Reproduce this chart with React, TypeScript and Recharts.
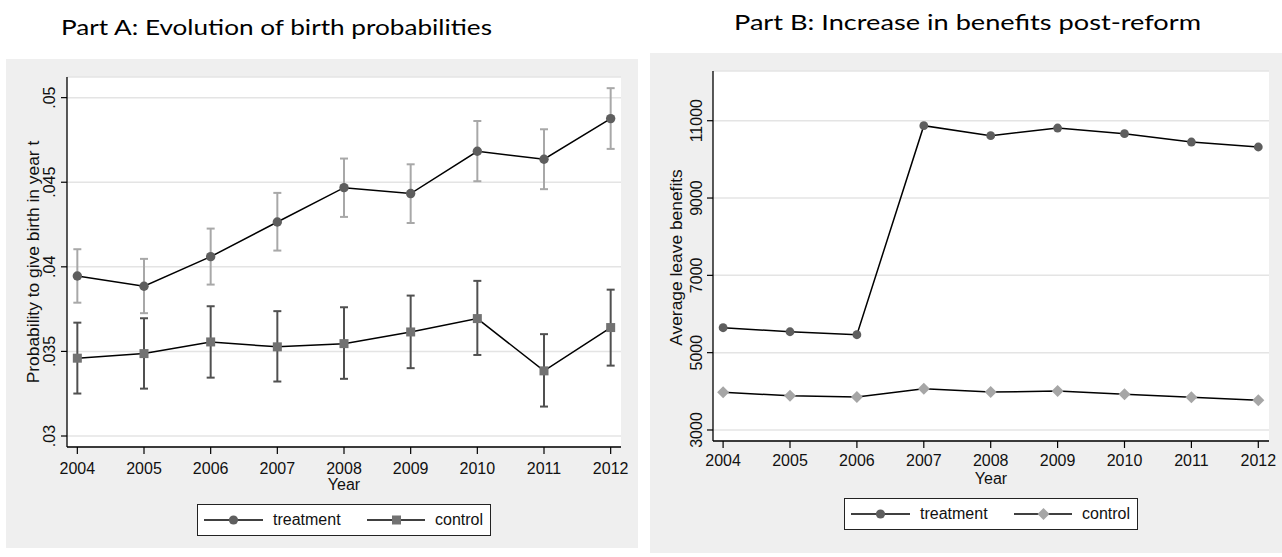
import React from 'react';
import { LineChart, Line, XAxis, YAxis, CartesianGrid, ErrorBar } from 'recharts';

const years = [2004, 2005, 2006, 2007, 2008, 2009, 2010, 2011, 2012];

// Part A: birth probabilities with confidence intervals
const treatProbA = [0.03946, 0.03885, 0.0406, 0.04265, 0.04468, 0.04433, 0.04683, 0.04636, 0.04876];
const treatLowA = [0.03788, 0.03726, 0.03895, 0.04096, 0.04295, 0.04259, 0.04506, 0.04459, 0.04697];
const treatHighA = [0.04104, 0.04047, 0.04226, 0.04437, 0.0464, 0.04606, 0.04862, 0.04813, 0.05056];
const controlProbA = [0.0346, 0.03487, 0.03556, 0.03527, 0.03546, 0.03615, 0.03694, 0.03385, 0.03641];
const controlLowA = [0.03251, 0.0328, 0.03345, 0.03322, 0.03338, 0.03401, 0.03479, 0.03174, 0.03416];
const controlHighA = [0.0367, 0.03696, 0.03767, 0.03738, 0.03761, 0.0383, 0.03917, 0.03602, 0.03865];

// Part B: average leave benefits
const treatBenefitsB = [5645, 5541, 5464, 10871, 10612, 10811, 10664, 10449, 10320];
const controlBenefitsB = [3974, 3886, 3852, 4067, 3982, 4007, 3922, 3844, 3767];

const yTicksA = [0.03, 0.035, 0.04, 0.045, 0.05];
const yTickLabelsA = ['.03', '.035', '.04', '.045', '.05'];
const yTicksB = [3000, 5000, 7000, 9000, 11000];
const yTickLabelsB = ['3000', '5000', '7000', '9000', '11000'];

const titleA = 'Part A: Evolution of birth probabilities';
const titleB = 'Part B: Increase in benefits post-reform';
const yTitleA = 'Probability to give birth in year t';
const yTitleB = 'Average leave benefits';
const xTitle = 'Year';
const seriesNames = ['treatment', 'control'];

const dataA = years.map((year, i) => ({
  year,
  treatment: treatProbA[i],
  treatErr: [treatProbA[i] - treatLowA[i], treatHighA[i] - treatProbA[i]],
  control: controlProbA[i],
  controlErr: [controlProbA[i] - controlLowA[i], controlHighA[i] - controlProbA[i]],
}));

const dataB = years.map((year, i) => ({
  year,
  treatment: treatBenefitsB[i],
  control: controlBenefitsB[i],
}));

const FONT = "'Liberation Sans', Arial, Helvetica, sans-serif";
const TITLE_FONT = "Lato, 'Open Sans', sans-serif";
const GRAY_BG = '#efefef';
const GRID = '#e4e4e4';

const YTick = (props: any) => {
  const { x, y, payload, labels, ticks } = props;
  const idx = ticks.indexOf(payload.value);
  return (
    <text
      transform={`translate(${x},${y}) rotate(-90)`}
      textAnchor="middle"
      fontSize={16}
      fontFamily={FONT}
      fill="#111"
    >
      {labels[idx]}
    </text>
  );
};

const circleDot = (fill: string, r: number) => (props: any) => {
  const { cx, cy, index } = props;
  if (cx == null || cy == null) return <g key={`c-${index}`} />;
  return <circle key={`c-${index}`} cx={cx} cy={cy} r={r} fill={fill} stroke="none" />;
};

const squareDot = (fill: string, s: number) => (props: any) => {
  const { cx, cy, index } = props;
  if (cx == null || cy == null) return <g key={`s-${index}`} />;
  return <rect key={`s-${index}`} x={cx - s / 2} y={cy - s / 2} width={s} height={s} fill={fill} stroke="none" />;
};

const diamondDot = (fill: string, h: number) => (props: any) => {
  const { cx, cy, index } = props;
  if (cx == null || cy == null) return <g key={`d-${index}`} />;
  return (
    <polygon
      key={`d-${index}`}
      points={`${cx},${cy - h} ${cx + h},${cy} ${cx},${cy + h} ${cx - h},${cy}`}
      fill={fill}
      stroke="none"
    />
  );
};

const Title = ({ text, left, width, baseline }: { text: string; left: number; width: number; baseline: number }) => (
  <svg style={{ position: 'absolute', left: 0, top: 0 }} width={1282} height={50}>
    <text
      x={left}
      y={baseline}
      textLength={width}
      lengthAdjust="spacingAndGlyphs"
      fontFamily={TITLE_FONT}
      fontSize={20.5}
      fill="#000"
    >
      {text}
    </text>
  </svg>
);

const LegendBox = ({ left, top, second }: { left: number; top: number; second: 'square' | 'diamond' }) => (
  <div
    style={{
      position: 'absolute',
      left,
      top,
      width: 294,
      height: 32,
      boxSizing: 'border-box',
      border: '1px solid #222',
      background: '#fff',
      fontFamily: FONT,
      fontSize: 16,
      color: '#111',
    }}
  >
    <svg style={{ position: 'absolute', left: 0, top: 0 }} width={292} height={30}>
      <line x1={6} y1={15} x2={65} y2={15} stroke="#000" strokeWidth={1.5} />
      <circle cx={35.5} cy={15} r={4.6} fill="#5e5e5e" />
      <line x1={169} y1={15} x2={227} y2={15} stroke="#000" strokeWidth={1.5} />
      {second === 'square' ? (
        <rect x={194} y={10.5} width={9} height={9} fill="#727272" />
      ) : (
        <polygon points="198.5,9 204.5,15 198.5,21 192.5,15" fill="#a6a6a6" />
      )}
    </svg>
    <span style={{ position: 'absolute', left: 75, top: 0, lineHeight: '30px' }}>{seriesNames[0]}</span>
    <span style={{ position: 'absolute', left: 237, top: 0, lineHeight: '30px' }}>{seriesNames[1]}</span>
  </div>
);

export default function App() {
  // Chart A frame: gray box (6,59)-(638,548); plot (67,77)-(621,447)
  const aMargin = { top: 18, right: 17, bottom: 1, left: 1 };
  // Chart B frame: gray box (650,53)-(1282,553); plot (713,71)-(1269,441)
  const bMargin = { top: 18, right: 13, bottom: 1, left: 3 };

  return (
    <div style={{ position: 'absolute', left: 0, top: 0, width: 1282, height: 557, background: '#fff', overflow: 'hidden' }}>
      <Title text={titleA} left={61} width={431} baseline={35} />
      <Title text={titleB} left={734} width={467} baseline={30} />

      <div style={{ position: 'absolute', left: 6, top: 59, width: 632, height: 489, background: GRAY_BG }}>
        <LineChart width={632} height={489} data={dataA} margin={aMargin}>
          <CartesianGrid horizontal vertical={false} stroke={GRID} strokeWidth={1.5} fill="#ffffff" />
          <XAxis
            dataKey="year"
            type="number"
            domain={[2003.845, 2012.155]}
            ticks={years}
            allowDataOverflow
            height={100}
            axisLine={{ stroke: '#000', strokeWidth: 1.3 }}
            tickLine={{ stroke: '#000', strokeWidth: 1.2 }}
            tickSize={7}
            tickMargin={9}
            interval={0}
            tick={{ fontSize: 16, fill: '#111', fontFamily: FONT }}
            label={{
              content: () => (
                <text x={338} y={489.5 - 59} textAnchor="middle" fontSize={16} fontFamily={FONT} fill="#111">
                  {xTitle}
                </text>
              ),
            }}
          />
          <YAxis
            type="number"
            domain={[0.02935, 0.05122]}
            ticks={yTicksA}
            allowDataOverflow
            width={60}
            axisLine={{ stroke: '#000', strokeWidth: 1.3 }}
            tickLine={{ stroke: '#000', strokeWidth: 1.2 }}
            tickSize={6}
            tickMargin={6}
            interval={0}
            tick={<YTick labels={yTickLabelsA} ticks={yTicksA} />}
            label={{
              content: () => (
                <text
                  transform={`translate(${61 - 28},${262 - 59}) rotate(-90)`}
                  textAnchor="middle"
                  fontSize={17.4}
                  fontFamily={FONT}
                  fill="#111"
                >
                  {yTitleA}
                </text>
              ),
            }}
          />
          <Line
            type="linear"
            dataKey="control"
            stroke="#000"
            strokeWidth={1.5}
            dot={squareDot('#727272', 9)}
            activeDot={false}
            isAnimationActive={false}
          >
            <ErrorBar dataKey="controlErr" width={4} stroke="#505050" strokeWidth={2} direction="y" />
          </Line>
          <Line
            type="linear"
            dataKey="treatment"
            stroke="#000"
            strokeWidth={1.5}
            dot={circleDot('#5e5e5e', 4.7)}
            activeDot={false}
            isAnimationActive={false}
          >
            <ErrorBar dataKey="treatErr" width={4} stroke="#a8a8a8" strokeWidth={2} direction="y" />
          </Line>
        </LineChart>
      </div>

      <div style={{ position: 'absolute', left: 650, top: 53, width: 632, height: 500, background: GRAY_BG }}>
        <LineChart width={632} height={500} data={dataB} margin={bMargin}>
          <CartesianGrid horizontal vertical={false} stroke={GRID} strokeWidth={1.5} fill="#ffffff" />
          <XAxis
            dataKey="year"
            type="number"
            domain={[2003.849, 2012.16]}
            ticks={years}
            allowDataOverflow
            height={111}
            axisLine={{ stroke: '#000', strokeWidth: 1.3 }}
            tickLine={{ stroke: '#000', strokeWidth: 1.2 }}
            tickSize={7}
            tickMargin={7}
            interval={0}
            tick={{ fontSize: 16, fill: '#111', fontFamily: FONT }}
            label={{
              content: () => (
                <text x={991 - 650} y={483.5 - 53} textAnchor="middle" fontSize={16} fontFamily={FONT} fill="#111">
                  {xTitle}
                </text>
              ),
            }}
          />
          <YAxis
            type="number"
            domain={[2715, 12286]}
            ticks={yTicksB}
            allowDataOverflow
            width={60}
            axisLine={{ stroke: '#000', strokeWidth: 1.3 }}
            tickLine={{ stroke: '#000', strokeWidth: 1.2 }}
            tickSize={6}
            tickMargin={5.5}
            interval={0}
            tick={<YTick labels={yTickLabelsB} ticks={yTicksB} />}
            label={{
              content: () => (
                <text
                  transform={`translate(${63 - 31},${257.5 - 53}) rotate(-90)`}
                  textAnchor="middle"
                  fontSize={17.4}
                  fontFamily={FONT}
                  fill="#111"
                >
                  {yTitleB}
                </text>
              ),
            }}
          />
          <Line
            type="linear"
            dataKey="control"
            stroke="#000"
            strokeWidth={1.5}
            dot={diamondDot('#a6a6a6', 6)}
            activeDot={false}
            isAnimationActive={false}
          />
          <Line
            type="linear"
            dataKey="treatment"
            stroke="#000"
            strokeWidth={1.5}
            dot={circleDot('#5e5e5e', 4.4)}
            activeDot={false}
            isAnimationActive={false}
          />
        </LineChart>
      </div>

      <LegendBox left={197} top={504} second="square" />
      <LegendBox left={844} top={498} second="diamond" />
    </div>
  );
}
